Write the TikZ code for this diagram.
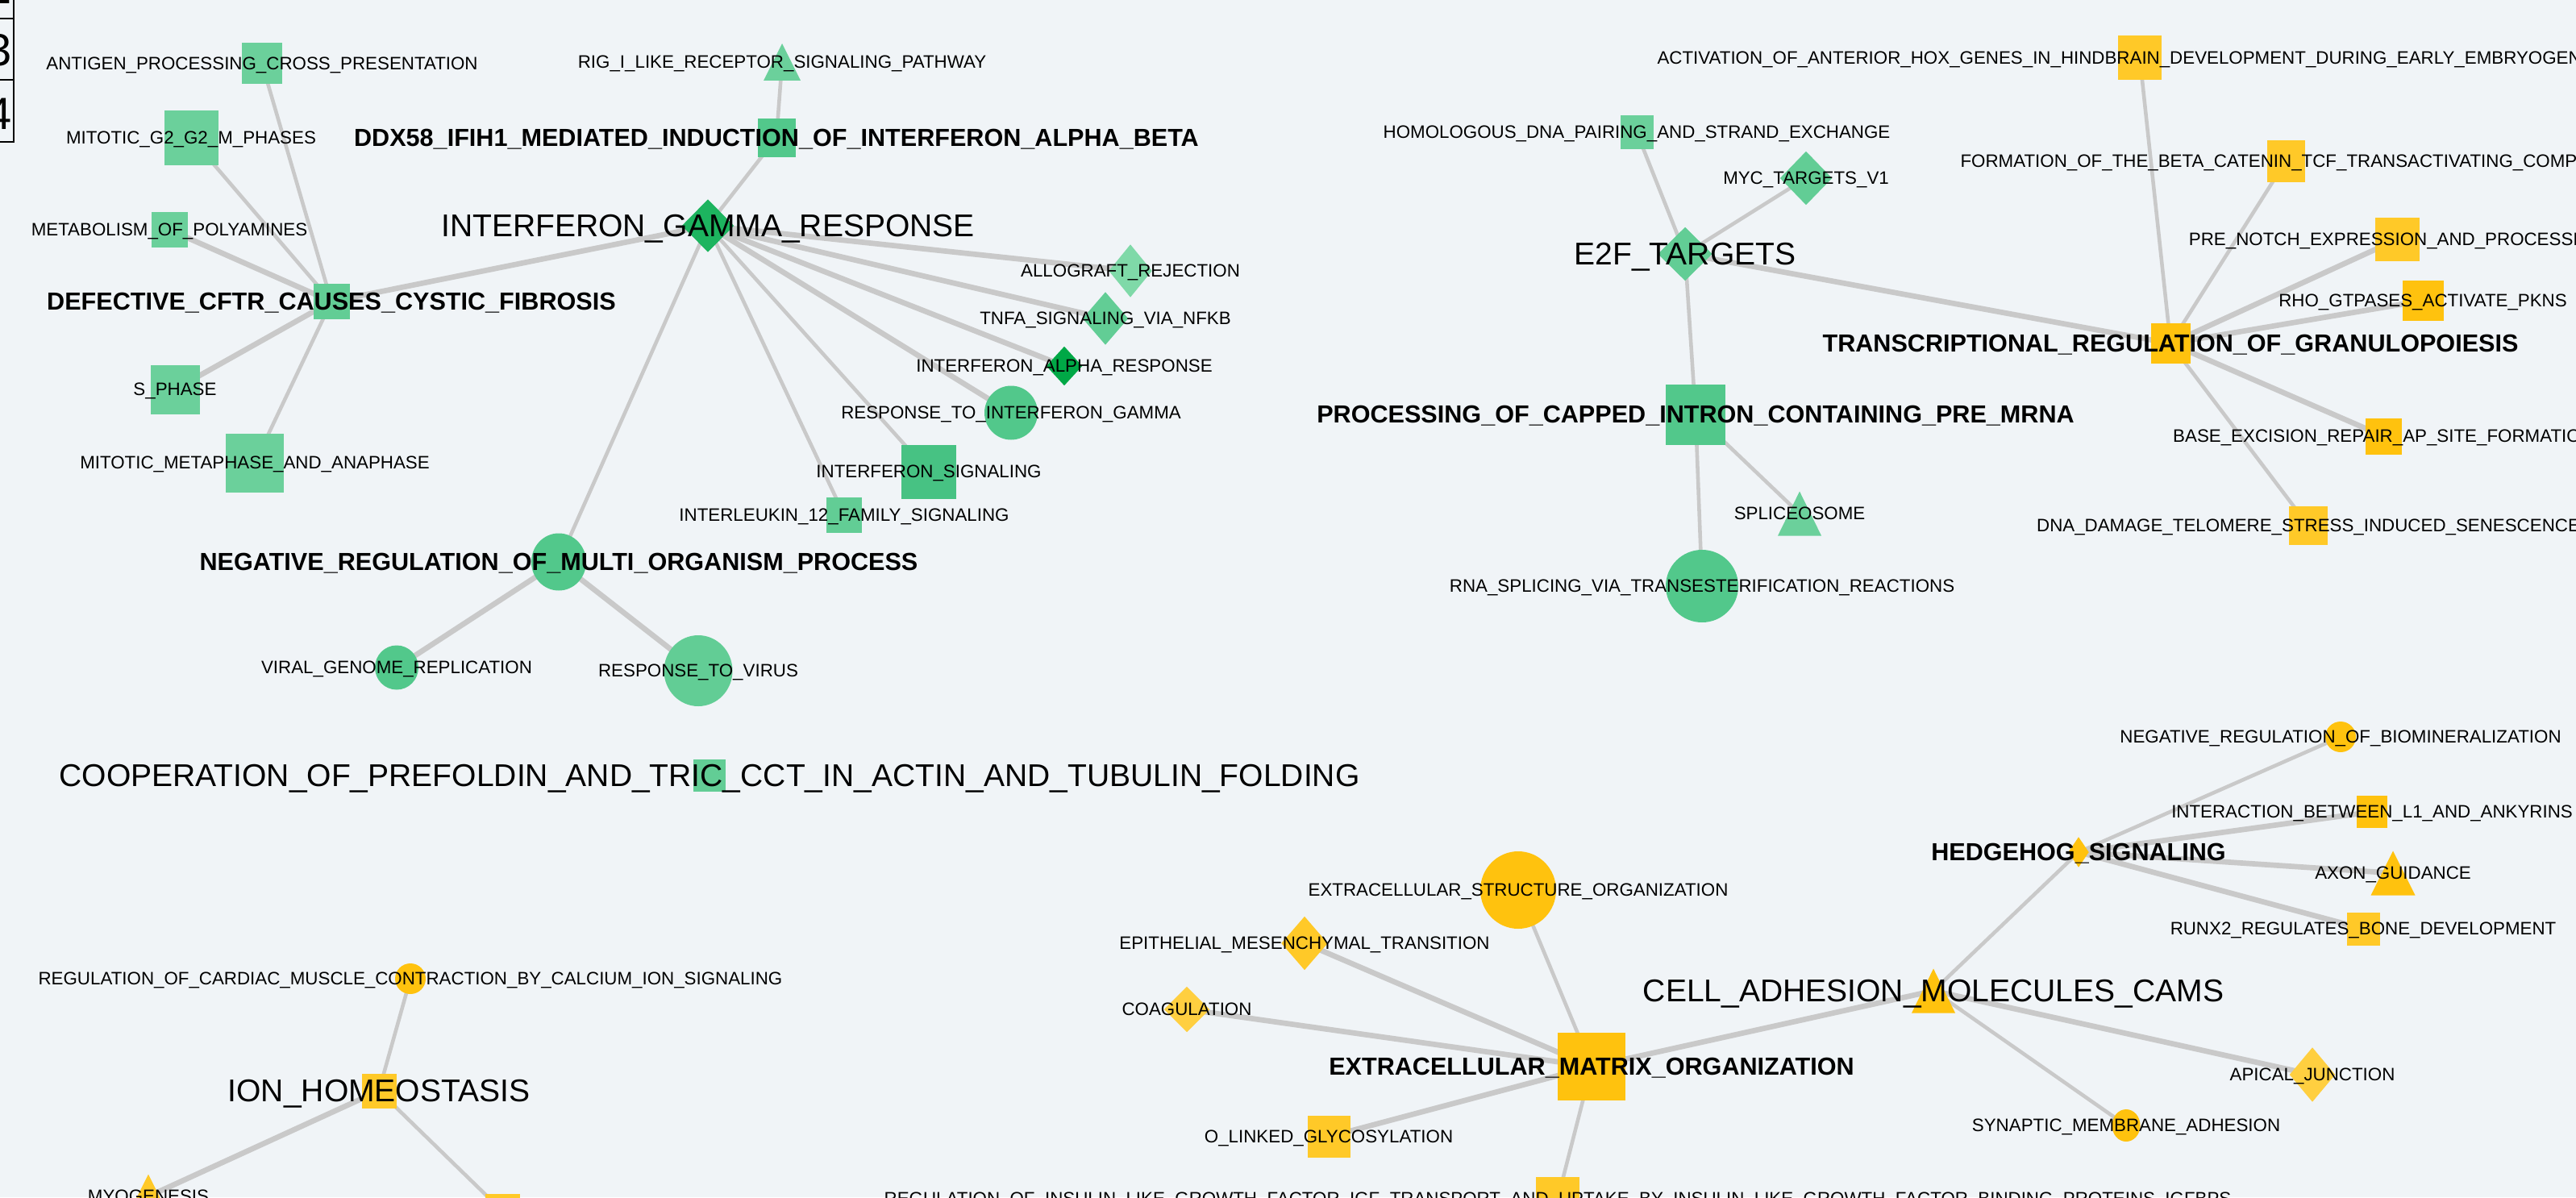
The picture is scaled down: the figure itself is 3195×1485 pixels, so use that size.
\documentclass[tikz,border=0pt]{standalone}
\usepackage{fontspec}
\setmainfont{Liberation Sans}
\usetikzlibrary{shapes.geometric}
\definecolor{bgc}{HTML}{F0F4F7}
\definecolor{edgec}{HTML}{C9C9C9}
\definecolor{grA}{HTML}{1DB45F}
\definecolor{grB}{HTML}{00A846}
\definecolor{grC}{HTML}{52C88B}
\definecolor{grD}{HTML}{62CD95}
\definecolor{grE}{HTML}{6BD09B}
\definecolor{grF}{HTML}{7FD9A8}
\definecolor{grG}{HTML}{47C283}
\definecolor{ylA}{HTML}{FFC20E}
\definecolor{ylB}{HTML}{FFC928}
\definecolor{ylC}{HTML}{FFCF40}
\pgfdeclarelayer{background}
\pgfsetlayers{background,main}
\tikzset{
    boxn/.style = {rectangle, inner sep=0pt, fill=#1},
    dian/.style = {diamond, inner sep=0pt, fill=#1},
    elln/.style = {ellipse, inner sep=0pt, fill=#1},
    trin/.style = {rectangle, inner sep=0pt, path picture={\fill[#1] (path picture bounding box.north) -- (path picture bounding box.south east) -- (path picture bounding box.south west) -- cycle;}},
    wh/.style 2 args = {minimum width=#1*0.01cm, minimum height=#2*0.01cm},
    lbls/.style = {font=\fontsize{6.35}{7}\selectfont, inner sep=0pt, text depth=0pt},
    lblm/.style = {font=\fontsize{8.7}{10}\selectfont\bfseries, inner sep=0pt, text depth=0pt},
    lblb/.style = {font=\fontsize{11.1}{13}\selectfont, inner sep=0pt, text depth=0pt},
    edgek/.style = {line width=1.9pt, draw=edgec}, % heavy
    edgel/.style = {line width=1.3pt, draw=edgec}, % light
    legline/.style = {line width=0.6pt, draw=black},
    digitn/.style = {font=\fontsize{15.9}{18}\selectfont, inner sep=0pt, anchor=base east}
}

\begin{document}
\begin{tikzpicture}[x=0.01cm, y=-0.01cm]
\useasboundingbox (0,0) rectangle (3195,1485);
\clip (0,0) rectangle (3195,1485);
%
% cystic fibrosis group
\node[boxn=grE, wh={50}{51}, label={[lbls]center:ANTIGEN\_PROCESSING\_CROSS\_PRESENTATION}] at (325, 79) (antigen) {};
\node[boxn=grE, wh={67}{67}, label={[lbls]center:MITOTIC\_G2\_G2\_M\_PHASES}] at (237, 171) (gtwom) {};
\node[boxn=grE, wh={45}{44}, label={[lbls]center:METABOLISM\_OF\_POLYAMINES}] at (210, 285) (polyam) {};
\node[boxn=grD, wh={45}{44}, label={[lblm]center:DEFECTIVE\_CFTR\_CAUSES\_CYSTIC\_FIBROSIS}] at (411, 374) (cftr) {};
\node[boxn=grE, wh={61}{61}, label={[lbls]center:S\_PHASE}] at (217, 483) (sphase) {};
\node[boxn=grE, wh={72}{73}, label={[lbls]center:MITOTIC\_METAPHASE\_AND\_ANAPHASE}] at (316, 574) (metaph) {};
%
% interferon gamma group
\node[dian=grA, wh={65}{66}, label={[lblb]center:INTERFERON\_GAMMA\_RESPONSE}] at (878, 280) (ifng) {};
\node[boxn=grC, wh={47}{48}, label={[lblm]center:DDX58\_IFIH1\_MEDIATED\_INDUCTION\_OF\_INTERFERON\_ALPHA\_BETA}] at (963, 171) (ddx) {};
\node[trin=grE, wh={46}{46}, label={[lbls]center:RIG\_I\_LIKE\_RECEPTOR\_SIGNALING\_PATHWAY}] at (970, 77) (rigi) {};
\node[dian=grF, wh={54}{66}, label={[lbls]center:ALLOGRAFT\_REJECTION}] at (1402, 336) (allog) {};
\node[dian=grD, wh={57}{66}, label={[lbls]center:TNFA\_SIGNALING\_VIA\_NFKB}] at (1371, 395) (tnfa) {};
\node[dian=grB, wh={45}{49}, label={[lbls]center:INTERFERON\_ALPHA\_RESPONSE}] at (1320, 454) (ifna) {};
\node[elln=grC, wh={66}{67}, label={[lbls]center:RESPONSE\_TO\_INTERFERON\_GAMMA}] at (1254, 512) (respifng) {};
\node[boxn=grG, wh={68}{67}, label={[lbls]center:INTERFERON\_SIGNALING}] at (1152, 585) (ifnsig) {};
\node[boxn=grD, wh={44}{44}, label={[lbls]center:INTERLEUKIN\_12\_FAMILY\_SIGNALING}] at (1047, 639) (ilsig) {};
\node[elln=grC, wh={68}{71}, label={[lblm]center:NEGATIVE\_REGULATION\_OF\_MULTI\_ORGANISM\_PROCESS}] at (693, 697) (negmulti) {};
\node[elln=grC, wh={54}{55}, label={[lbls]center:VIRAL\_GENOME\_REPLICATION}] at (492, 828) (viral) {};
\node[elln=grD, wh={85}{88}, label={[lbls]center:RESPONSE\_TO\_VIRUS}] at (866, 832) (respvir) {};
%
% e2f group
\node[boxn=grE, wh={41}{42}, label={[lbls]center:HOMOLOGOUS\_DNA\_PAIRING\_AND\_STRAND\_EXCHANGE}] at (2030, 164) (homdna) {};
\node[dian=grD, wh={65}{67}, label={[lbls]center:MYC\_TARGETS\_V1}] at (2240, 221) (myc) {};
\node[dian=grD, wh={68}{67}, label={[lblb]center:E2F\_TARGETS}] at (2090, 315) (etwof) {};
\node[boxn=grC, wh={74}{75}, label={[lblm]center:PROCESSING\_OF\_CAPPED\_INTRON\_CONTAINING\_PRE\_MRNA}] at (2103, 514) (capped) {};
\node[trin=grE, wh={54}{55}, label={[lbls]center:SPLICEOSOME}] at (2232, 637) (splice) {};
\node[elln=grC, wh={90}{90}, label={[lbls]center:RNA\_SPLICING\_VIA\_TRANSESTERIFICATION\_REACTIONS}] at (2111, 727) (rnaspl) {};
%
% granulopoiesis group
\node[boxn=ylB, wh={54}{55}, label={[lbls]center:ACTIVATION\_OF\_ANTERIOR\_HOX\_GENES\_IN\_HINDBRAIN\_DEVELOPMENT\_DURING\_EARLY\_EMBRYOGENESIS}] at (2654, 72) (hox) {};
\node[boxn=ylB, wh={47}{51}, label={[lbls]center:FORMATION\_OF\_THE\_BETA\_CATENIN\_TCF\_TRANSACTIVATING\_COMPLEX}] at (2835, 200) (catenin) {};
\node[boxn=ylB, wh={55}{54}, label={[lbls]center:PRE\_NOTCH\_EXPRESSION\_AND\_PROCESSING}] at (2973, 297) (notch) {};
\node[boxn=ylA, wh={51}{50}, label={[lbls]center:RHO\_GTPASES\_ACTIVATE\_PKNS}] at (3005, 373) (rho) {};
\node[boxn=ylA, wh={49}{50}, label={[lblm]center:TRANSCRIPTIONAL\_REGULATION\_OF\_GRANULOPOIESIS}] at (2692, 426) (granulo) {};
\node[boxn=ylA, wh={45}{45}, label={[lbls]center:BASE\_EXCISION\_REPAIR\_AP\_SITE\_FORMATION}] at (2956, 541) (baseexc) {};
\node[boxn=ylB, wh={48}{48}, label={[lbls]center:DNA\_DAMAGE\_TELOMERE\_STRESS\_INDUCED\_SENESCENCE}] at (2863, 652) (telomere) {};
%
% prefoldin, alone
\node[boxn=grD, wh={40}{40}, label={[lblb]center:COOPERATION\_OF\_PREFOLDIN\_AND\_TRIC\_CCT\_IN\_ACTIN\_AND\_TUBULIN\_FOLDING}] at (880, 962) (prefold) {};
%
% ion homeostasis group
\node[elln=ylA, wh={38}{38}, label={[lbls]center:REGULATION\_OF\_CARDIAC\_MUSCLE\_CONTRACTION\_BY\_CALCIUM\_ION\_SIGNALING}] at (509, 1214) (cardiac) {};
\node[boxn=ylB, wh={43}{43}, label={[lblb]center:ION\_HOMEOSTASIS}] at (470, 1353) (ionhom) {};
\node[trin=ylB, wh={55}{55}, label={[lbls]center:MYOGENESIS}] at (184, 1484) (myog) {};
\node[boxn=ylB, wh={43}{43}] at (623, 1502) (ionlow) {};
%
% extracellular matrix group
\node[elln=ylA, wh={94}{96}, label={[lbls]center:EXTRACELLULAR\_STRUCTURE\_ORGANIZATION}] at (1883, 1104) (ecmstr) {};
\node[dian=ylB, wh={58}{67}, label={[lbls]center:EPITHELIAL\_MESENCHYMAL\_TRANSITION}] at (1618, 1170) (emt) {};
\node[dian=ylC, wh={57}{57}, label={[lbls]center:COAGULATION}] at (1472, 1252) (coag) {};
\node[boxn=ylA, wh={84}{84}, label={[lblm]center:EXTRACELLULAR\_MATRIX\_ORGANIZATION}] at (1974, 1323) (ecm) {};
\node[boxn=ylB, wh={53}{52}, label={[lbls]center:O\_LINKED\_GLYCOSYLATION}] at (1648, 1410) (olink) {};
\node[boxn=ylB, wh={54}{54}, label={[lbls]center:REGULATION\_OF\_INSULIN\_LIKE\_GROWTH\_FACTOR\_IGF\_TRANSPORT\_AND\_UPTAKE\_BY\_INSULIN\_LIKE\_GROWTH\_FACTOR\_BINDING\_PROTEINS\_IGFBPS}] at (1932, 1487) (igf) {};
\node[trin=ylA, wh={54}{55}, label={[lblb]center:CELL\_ADHESION\_MOLECULES\_CAMS}] at (2398, 1229) (cams) {};
\node[dian=ylA, wh={26}{38}, label={[lblm]center:HEDGEHOG\_SIGNALING}] at (2578, 1057) (hedge) {};
\node[elln=ylA, wh={38}{38}, label={[lbls]center:NEGATIVE\_REGULATION\_OF\_BIOMINERALIZATION}] at (2903, 914) (biomin) {};
\node[boxn=ylA, wh={38}{40}, label={[lbls]center:INTERACTION\_BETWEEN\_L1\_AND\_ANKYRINS}] at (2942, 1007) (ankyr) {};
\node[trin=ylA, wh={55}{55}, label={[lbls]center:AXON\_GUIDANCE}] at (2968, 1083) (axon) {};
\node[boxn=ylB, wh={41}{41}, label={[lbls]center:RUNX2\_REGULATES\_BONE\_DEVELOPMENT}] at (2931, 1152) (runx) {};
\node[dian=ylC, wh={57}{68}, label={[lbls]center:APICAL\_JUNCTION}] at (2868, 1333) (apical) {};
\node[elln=ylA, wh={35}{40}, label={[lbls]center:SYNAPTIC\_MEMBRANE\_ADHESION}] at (2637, 1396) (synap) {};
%
% legend scrap, top left
\draw[legline] (17,0) -- (17,176) -- (0,176);
\draw[legline] (0,23) -- (17,23);
\draw[legline] (0,99) -- (17,99);
\node[digitn] at (15, 5) (dtwo) {2};
\node[digitn] at (15, 82) (dthree) {3};
\node[digitn] at (15, 160) (dfour) {4};
%
\begin{pgfonlayer}{background}
\fill[bgc] (0,0) rectangle (3195,1485);
\draw[edgel] (cftr.center) -- (antigen.center);
\draw[edgel] (cftr.center) -- (gtwom.center);
\draw[edgek] (cftr.center) -- (polyam.center);
\draw[edgek] (cftr.center) -- (sphase.center);
\draw[edgel] (cftr.center) -- (metaph.center);
\draw[edgek] (cftr.center) -- (ifng.center);
\draw[edgel] (ifng.center) -- (ddx.center);
\draw[edgel] (ddx.center) -- (rigi.center);
\draw[edgek] (ifng.center) -- (allog.center);
\draw[edgek] (ifng.center) -- (tnfa.center);
\draw[edgek] (ifng.center) -- (ifna.center);
\draw[edgek] (ifng.center) -- (respifng.center);
\draw[edgel] (ifng.center) -- (ifnsig.center);
\draw[edgel] (ifng.center) -- (ilsig.center);
\draw[edgel] (ifng.center) -- (negmulti.center);
\draw[edgek] (negmulti.center) -- (viral.center);
\draw[edgek] (negmulti.center) -- (respvir.center);
%
\draw[edgel] (etwof.center) -- (homdna.center);
\draw[edgel] (etwof.center) -- (myc.center);
\draw[edgel] (etwof.center) -- (capped.center);
\draw[edgek] (etwof.center) -- (granulo.center);
\draw[edgel] (capped.center) -- (splice.center);
\draw[edgel] (capped.center) -- (rnaspl.center);
\draw[edgel] (granulo.center) -- (hox.center);
\draw[edgel] (granulo.center) -- (catenin.center);
\draw[edgek] (granulo.center) -- (notch.center);
\draw[edgek] (granulo.center) -- (rho.center);
\draw[edgek] (granulo.center) -- (baseexc.center);
\draw[edgel] (granulo.center) -- (telomere.center);
%
\draw[edgel] (ionhom.center) -- (cardiac.center);
\draw[edgek] (ionhom.center) -- (myog.center);
\draw[edgel] (ionhom.center) -- (ionlow.center);
%
\draw[edgel] (ecm.center) -- (ecmstr.center);
\draw[edgek] (ecm.center) -- (emt.center);
\draw[edgek] (ecm.center) -- (coag.center);
\draw[edgek] (ecm.center) -- (olink.center);
\draw[edgel] (ecm.center) -- (igf.center);
\draw[edgek] (ecm.center) -- (cams.center);
\draw[edgel] (cams.center) -- (hedge.center);
\draw[edgek] (cams.center) -- (apical.center);
\draw[edgel] (cams.center) -- (synap.center);
\draw[edgel] (hedge.center) -- (biomin.center);
\draw[edgek] (hedge.center) -- (ankyr.center);
\draw[edgek] (hedge.center) -- (axon.center);
\draw[edgek] (hedge.center) -- (runx.center);
\end{pgfonlayer}

\end{tikzpicture}
\end{document}
